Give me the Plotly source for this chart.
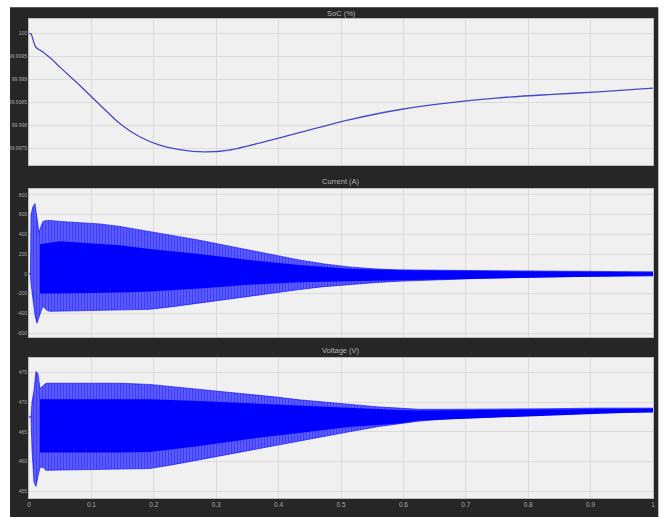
import plotly.graph_objects as go
from plotly.subplots import make_subplots

# ---------------- data ----------------
soc_t = [0, 0.0032, 0.0064, 0.0096, 0.0128, 0.0176, 0.0224, 0.0288, 0.0367, 0.0495,
         0.0815, 0.1134, 0.1454, 0.1773, 0.2093, 0.2412, 0.2812, 0.3211, 0.369, 0.4329,
         0.5128, 0.5927, 0.6725, 0.7524, 0.8323, 0.9121, 1.0]
soc_v = [100.0, 100.0, 99.99987, 99.99974, 99.99968, 99.99964, 99.9996, 99.99953, 99.99944, 99.99927,
         99.99887, 99.99845, 99.99804, 99.99775, 99.99757, 99.99747, 99.99742, 99.99746, 99.99761, 99.99784,
         99.99812, 99.99834, 99.99849, 99.9986, 99.99867, 99.99873, 99.99881]

# current envelope (max / min of the fast oscillation)
cur_t = [0, 0.0024, 0.0032, 0.0064, 0.0096, 0.0128, 0.016, 0.0192, 0.0224, 0.0288, 0.0335,
         0.0495, 0.0815, 0.1134, 0.1454, 0.1933, 0.2332, 0.2732, 0.3131, 0.353, 0.393,
         0.4329, 0.4728, 0.5128, 0.5527, 0.5927, 0.6725, 0.7524, 0.8323, 0.9121, 1.0]
cur_max = [0, 0, 600, 680, 710, 560, 420, 480, 530, 540, 540,
           530, 520, 505, 480, 430, 385, 340, 290, 240, 190,
           140, 100, 70, 50, 40, 35, 30, 25, 22, 20]
cur_min = [0, 0, -100, -260, -420, -500, -450, -380, -330, -370, -380,
           -375, -375, -370, -365, -360, -330, -300, -265, -230, -195,
           -160, -130, -110, -90, -75, -55, -40, -30, -25, -22]
# dense core of the current band
curc_t = [0.0176, 0.0495, 0.1454, 0.1933, 0.2732, 0.353, 0.4329, 0.5128, 0.5927, 0.6725, 1.0]
curc_max = [300, 330, 290, 250, 200, 140, 90, 50, 35, 30, 15]
curc_min = [-200, -200, -190, -180, -150, -110, -85, -75, -65, -50, -18]

# voltage envelope
vol_t = [0, 0.0032, 0.0048, 0.008, 0.0112, 0.0144, 0.0176, 0.0224, 0.0272,
         0.0815, 0.1454, 0.1933, 0.2332, 0.2732, 0.3131, 0.353, 0.393, 0.4329, 0.4728, 0.5128,
         0.5607, 0.5927, 0.6246, 0.6725, 0.7524, 0.8323, 0.9121, 1.0]
vol_max = [467.5, 467.5, 470, 472, 475.2, 474.8, 472.3, 472.8, 473.2,
           473.2, 473.2, 473.0, 472.6, 472.2, 471.8, 471.3, 470.9, 470.4, 470.0, 469.6,
           469.2, 469.0, 468.8, 468.8, 468.8, 468.9, 469.0, 469.0]
vol_min = [467.5, 467.5, 462, 456.5, 455.8, 457.5, 459, 459, 458.5,
           458.6, 458.7, 458.8, 459.5, 460.2, 461.0, 461.8, 462.6, 463.4, 464.2, 465.0,
           465.9, 466.3, 466.8, 467.2, 467.5, 467.9, 468.2, 468.3]
volc_t = [0.0176, 0.1454, 0.1933, 0.2732, 0.353, 0.4329, 0.5128, 0.5927, 0.6246, 1.0]
volc_max = [470.5, 470.5, 470.5, 470.2, 469.8, 469.4, 469.0, 468.7, 468.6, 468.9]
volc_min = [461.5, 461.5, 461.6, 462.6, 463.8, 464.8, 465.8, 466.4, 466.9, 468.4]

x_ticks = [0, 0.1, 0.2, 0.3, 0.4, 0.5, 0.6, 0.7, 0.8, 0.9, 1]
x_labels = ["0", "0.1", "0.2", "0.3", "0.4", "0.5", "0.6", "0.7", "0.8", "0.9", "1"]
soc_ticks = [99.9975, 99.998, 99.9985, 99.999, 99.9995, 100]
soc_labels = ["99.9975", "99.998", "99.9985", "99.999", "99.9995", "100"]
cur_ticks = [-600, -400, -200, 0, 200, 400, 600, 800]
vol_ticks = [455, 460, 465, 470, 475]
titles = ["SoC (%)", "Current (A)", "Voltage (V)"]

# ---------------- figure ----------------
DARK = "#262626"
BG = "#f0f0f0"
GRID = "#dbdbdb"
TICKC = "#a9a9a9"

fig = make_subplots(rows=3, cols=1)


def band(t, hi, lo, row, pattern):
    xs = list(t) + list(t)[::-1]
    ys = list(hi) + list(lo)[::-1]
    kw = dict(x=xs, y=ys, mode="lines", fill="toself",
              line=dict(color="#0000ff", width=0.6), hoverinfo="skip", showlegend=False)
    if pattern:
        kw["fillcolor"] = "rgba(110,110,255,1)"
        kw["fillpattern"] = dict(shape="|", fgcolor="#0000ff", bgcolor="#7878ff",
                                 size=3, solidity=0.65)
    else:
        kw["fillcolor"] = "#0000ff"
        kw["line"] = dict(color="#0000ff", width=0)
    fig.add_trace(go.Scatter(**kw), row=row, col=1)


fig.add_trace(go.Scatter(x=soc_t, y=soc_v, mode="lines",
                         line=dict(color="#4848c8", width=1.3, shape="spline", smoothing=0.6),
                         showlegend=False), row=1, col=1)
band(cur_t, cur_max, cur_min, 2, True)
band(curc_t, curc_max, curc_min, 2, False)
band(vol_t, vol_max, vol_min, 3, True)
band(volc_t, volc_max, volc_min, 3, False)

# pixel layout: plot x 29..655, y bottom 504; total plot height 485
domains = [[0.6948, 1.0], [0.3361, 0.6454], [0.0, 0.2928]]
yranges = [[99.99713, 100.00032], [-640, 860], [453.83, 477.5]]
yticks = [(soc_ticks, soc_labels), (cur_ticks, [str(v) for v in cur_ticks]),
          (vol_ticks, [str(v) for v in vol_ticks])]

for i in range(3):
    r = i + 1
    fig.update_xaxes(row=r, col=1, range=[0, 1], tickvals=x_ticks,
                     ticktext=x_labels if r == 3 else None,
                     showticklabels=(r == 3), showgrid=True, gridcolor=GRID, gridwidth=1,
                     zeroline=False, showline=True, linecolor="#bdbdbd", mirror=True,
                     ticks="", tickfont=dict(size=6.5, color=TICKC, family="Arial"))
    fig.update_yaxes(row=r, col=1, domain=domains[i], range=yranges[i],
                     tickvals=yticks[i][0], ticktext=yticks[i][1],
                     showgrid=True, gridcolor=GRID, gridwidth=1, zeroline=False,
                     showline=True, linecolor="#bdbdbd", mirror=True, ticks="",
                     tickfont=dict(size=5, color=TICKC, family="Arial"))

title_y = [1.0124, 0.6598, 0.3072]
for txt, ty in zip(titles, title_y):
    fig.add_annotation(text=txt, x=0.5, y=ty, xref="paper", yref="paper", showarrow=False,
                       xanchor="center", yanchor="middle",
                       font=dict(size=7.5, color="#b5b5b5", family="Arial"))

# white page surround outside the dark scope window
for x0, x1, y0, y1 in [(-0.1, 1.1, 1.0247, 1.1), (-0.1, -0.0304, -0.1, 1.1), (1.0085, 1.1, -0.1, 1.1)]:
    fig.add_shape(type="rect", xref="paper", yref="paper", x0=x0, x1=x1, y0=y0, y1=y1,
                  fillcolor="white", line=dict(width=0), layer="above")

fig.update_layout(width=664, height=517, margin=dict(l=29, r=9, t=19, b=13),
                  paper_bgcolor=DARK, plot_bgcolor=BG, showlegend=False)

fig.write_html("out.html")
